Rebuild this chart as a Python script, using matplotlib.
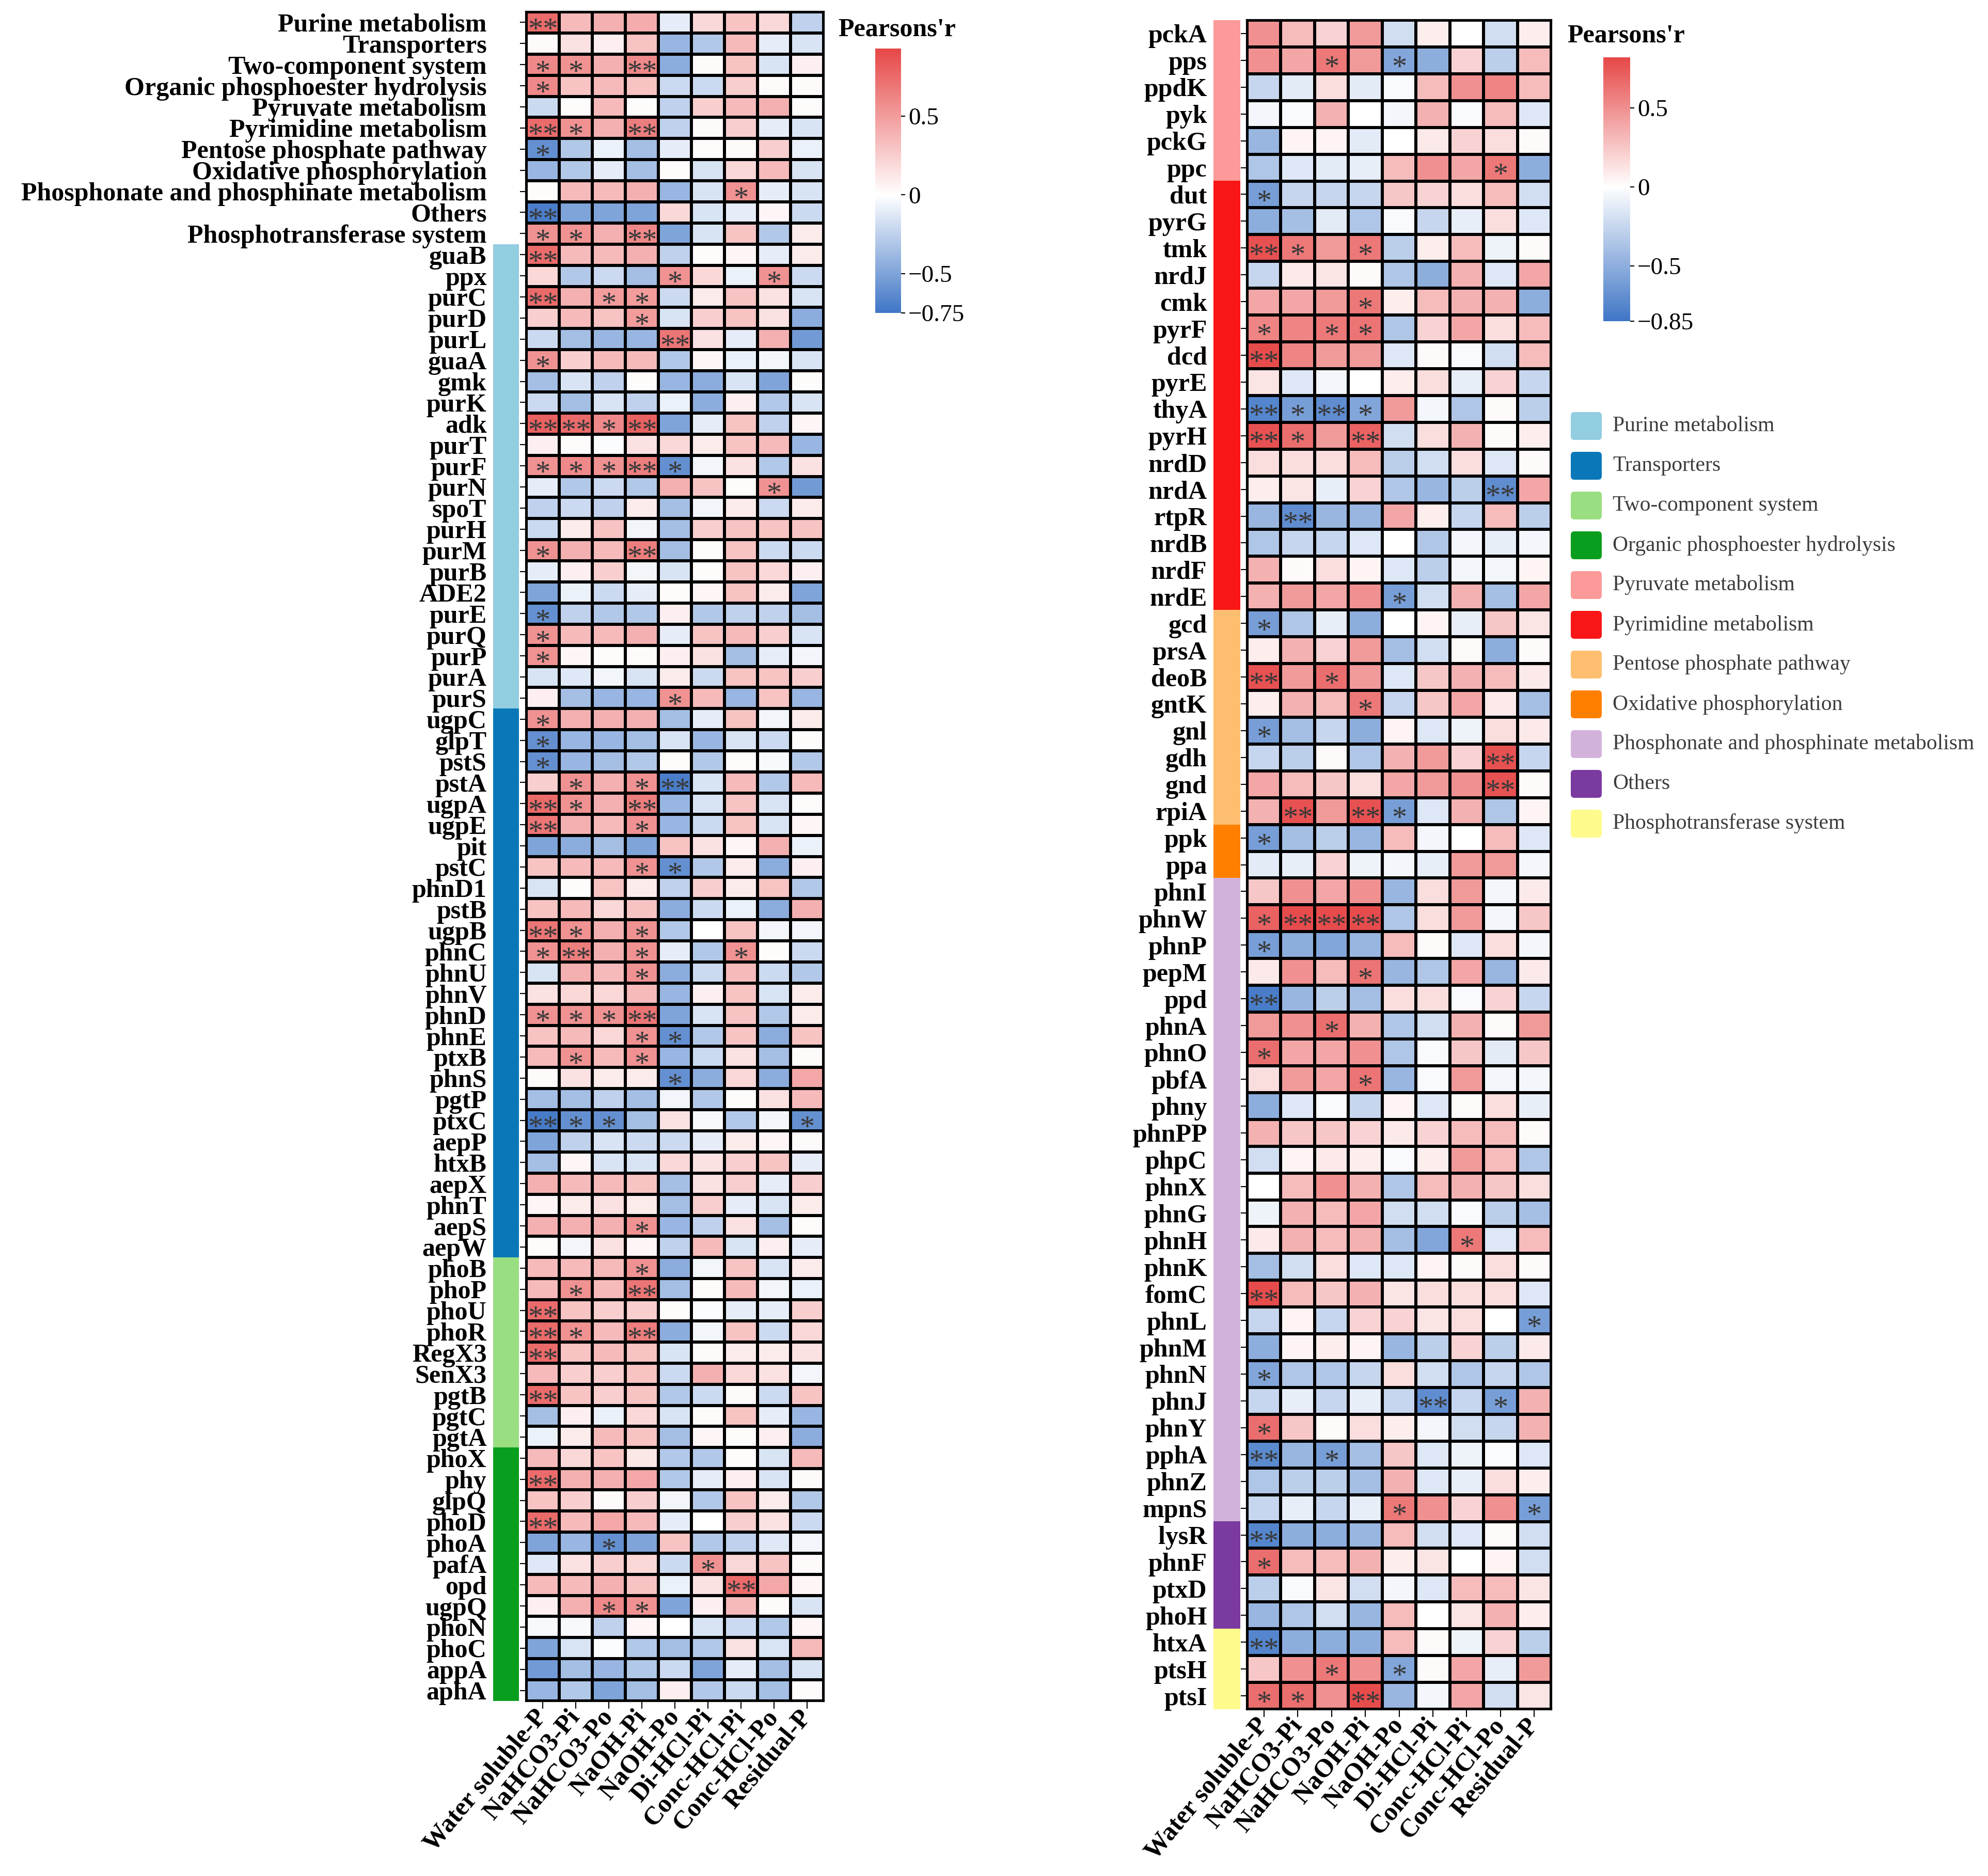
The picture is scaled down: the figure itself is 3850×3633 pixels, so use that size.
import numpy as np
import matplotlib.pyplot as plt
from matplotlib.colors import LinearSegmentedColormap, Normalize, to_rgb
from matplotlib.cm import ScalarMappable
from matplotlib.patches import FancyBboxPatch

plt.rcParams['font.family'] = ['Liberation Serif', 'DejaVu Serif']

W, H = 3850, 3633

# ---------------- data ----------------
fractions = ['Water soluble-P', 'NaHCO3-Pi', 'NaHCO3-Po', 'NaOH-Pi', 'NaOH-Po',
             'Di-HCl-Pi', 'Conc-HCl-Pi', 'Conc-HCl-Po', 'Residual-P']

categories = ['Purine metabolism', 'Transporters', 'Two-component system',
              'Organic phosphoester hydrolysis', 'Pyruvate metabolism',
              'Pyrimidine metabolism', 'Pentose phosphate pathway',
              'Oxidative phosphorylation', 'Phosphonate and phosphinate metabolism',
              'Others', 'Phosphotransferase system']
cat_colors = ['#92CDE0', '#0A78B8', '#9ADE82', '#0A9E1E', '#FB9A99', '#F91616',
              '#FDBF6F', '#FF8000', '#D2B2DA', '#7A3AA0', '#FFFA8C']

# left panel: row labels, group of each row block (None = no annotation)
left_labels = categories + [
    'guaB', 'ppx', 'purC', 'purD', 'purL', 'guaA', 'gmk', 'purK', 'adk', 'purT', 'purF',
    'purN', 'spoT', 'purH', 'purM', 'purB', 'ADE2', 'purE', 'purQ', 'purP', 'purA', 'purS',
    'ugpC', 'glpT', 'pstS', 'pstA', 'ugpA', 'ugpE', 'pit', 'pstC', 'phnD1', 'pstB', 'ugpB',
    'phnC', 'phnU', 'phnV', 'phnD', 'phnE', 'ptxB', 'phnS', 'pgtP', 'ptxC', 'aepP', 'htxB',
    'aepX', 'phnT', 'aepS', 'aepW',
    'phoB', 'phoP', 'phoU', 'phoR', 'RegX3', 'SenX3', 'pgtB', 'pgtC', 'pgtA',
    'phoX', 'phy', 'glpQ', 'phoD', 'phoA', 'pafA', 'opd', 'ugpQ', 'phoN', 'phoC', 'appA', 'aphA']
left_blocks = [(None, 11), ('Purine metabolism', 22), ('Transporters', 26),
               ('Two-component system', 9), ('Organic phosphoester hydrolysis', 12)]

left_r = [
    [0.75, 0.35, 0.40, 0.42, -0.10, 0.20, 0.30, 0.20, -0.25],
    [0.03, 0.15, 0.08, 0.30, -0.40, -0.30, 0.35, -0.10, -0.15],
    [0.60, 0.55, 0.40, 0.60, -0.45, 0.03, 0.30, -0.15, 0.08],
    [0.60, 0.30, 0.35, 0.30, -0.20, -0.20, 0.25, 0.03, 0.03],
    [-0.20, 0.02, 0.35, 0.02, -0.25, 0.25, 0.35, 0.40, 0.02],
    [0.75, 0.55, 0.40, 0.65, -0.25, 0.03, 0.25, -0.10, -0.15],
    [-0.60, -0.30, -0.08, -0.35, -0.10, 0.02, 0.03, 0.25, -0.08],
    [-0.40, -0.30, -0.10, -0.35, 0.02, -0.15, 0.20, 0.35, -0.15],
    [0.02, 0.35, 0.35, 0.40, -0.40, -0.15, 0.55, -0.10, -0.15],
    [-0.70, -0.50, -0.50, -0.50, 0.20, -0.15, -0.10, 0.05, -0.20],
    [0.55, 0.55, 0.40, 0.60, -0.50, -0.15, 0.30, -0.30, 0.10],
    [0.75, 0.35, 0.35, 0.40, -0.25, 0.02, 0.05, -0.10, 0.10],
    [0.20, -0.30, -0.20, -0.35, 0.55, 0.20, -0.08, 0.55, -0.20],
    [0.75, 0.40, 0.50, 0.50, -0.20, 0.10, 0.30, 0.15, -0.15],
    [0.25, 0.35, 0.30, 0.50, -0.15, 0.25, 0.30, 0.15, -0.45],
    [-0.20, -0.35, -0.40, -0.40, 0.70, 0.15, -0.10, 0.40, -0.55],
    [0.55, 0.25, 0.35, 0.35, -0.30, 0.05, -0.08, -0.05, -0.15],
    [-0.35, -0.15, -0.25, 0.02, -0.40, -0.45, -0.15, -0.50, 0.02],
    [-0.20, -0.35, -0.15, -0.25, -0.08, -0.45, 0.08, -0.30, -0.15],
    [0.80, 0.75, 0.60, 0.80, -0.50, -0.10, 0.30, -0.25, 0.05],
    [0.08, 0.02, -0.02, 0.15, 0.20, 0.10, 0.30, 0.35, -0.40],
    [0.55, 0.60, 0.55, 0.65, -0.60, -0.05, 0.15, -0.30, 0.15],
    [-0.10, -0.30, -0.20, -0.30, 0.40, 0.30, 0.02, 0.55, -0.55],
    [-0.25, -0.20, -0.25, 0.10, -0.35, -0.05, 0.10, -0.20, 0.10],
    [-0.20, 0.10, 0.30, -0.05, -0.35, 0.25, 0.30, 0.30, 0.30],
    [0.55, 0.40, 0.35, 0.65, -0.35, 0.02, 0.30, -0.20, -0.20],
    [-0.10, 0.08, 0.25, -0.05, -0.15, 0.02, 0.30, 0.20, 0.08],
    [-0.50, -0.08, -0.20, -0.10, 0.02, 0.05, 0.30, 0.10, -0.50],
    [-0.60, -0.25, -0.30, -0.30, 0.08, -0.30, -0.25, -0.25, -0.35],
    [0.55, 0.35, 0.35, 0.40, -0.10, 0.30, 0.35, 0.25, -0.15],
    [0.55, 0.05, 0.02, 0.03, 0.08, 0.15, -0.35, -0.10, -0.05],
    [-0.15, -0.12, -0.05, -0.15, 0.10, -0.20, 0.30, 0.30, 0.25],
    [0.08, -0.35, -0.40, -0.40, 0.55, 0.35, -0.40, 0.30, -0.40],
    [0.55, 0.40, 0.40, 0.40, -0.35, -0.10, 0.30, -0.05, 0.10],
    [-0.60, -0.40, -0.40, -0.35, -0.15, -0.40, -0.15, -0.20, 0.02],
    [-0.60, -0.40, -0.35, -0.30, 0.02, -0.30, 0.02, -0.03, -0.30],
    [0.25, 0.55, 0.40, 0.55, -0.70, -0.15, 0.35, -0.30, 0.35],
    [0.75, 0.55, 0.40, 0.65, -0.40, -0.15, 0.30, -0.15, 0.02],
    [0.70, 0.40, 0.35, 0.55, -0.40, -0.20, 0.30, -0.15, 0.05],
    [-0.50, -0.45, -0.35, -0.50, 0.30, 0.15, 0.05, 0.40, -0.08],
    [0.30, 0.35, 0.35, 0.55, -0.60, -0.30, 0.10, -0.45, 0.08],
    [-0.15, 0.02, 0.30, 0.10, -0.25, 0.25, 0.10, 0.30, -0.30],
    [0.30, 0.35, 0.20, 0.30, -0.45, -0.20, -0.08, -0.45, 0.40],
    [0.70, 0.55, 0.40, 0.55, -0.30, 0.00, 0.30, -0.05, -0.05],
    [0.55, 0.65, 0.40, 0.55, -0.10, -0.30, 0.55, 0.02, -0.20],
    [-0.15, 0.40, 0.35, 0.55, -0.45, -0.20, 0.35, -0.20, -0.30],
    [0.15, 0.20, 0.20, 0.35, -0.40, 0.08, 0.30, -0.15, 0.10],
    [0.55, 0.55, 0.55, 0.70, -0.50, -0.15, 0.30, -0.30, 0.10],
    [0.30, 0.35, 0.20, 0.55, -0.60, -0.30, 0.30, -0.45, 0.30],
    [0.35, 0.55, 0.35, 0.55, -0.40, -0.20, 0.15, -0.35, 0.03],
    [0.03, 0.15, 0.10, 0.10, -0.60, -0.45, 0.20, -0.45, 0.45],
    [-0.35, -0.35, -0.25, -0.35, -0.05, -0.30, 0.02, 0.15, 0.35],
    [-0.72, -0.60, -0.60, -0.35, 0.15, -0.03, -0.30, -0.05, -0.60],
    [-0.50, -0.25, -0.15, -0.20, -0.20, -0.10, 0.10, 0.05, 0.03],
    [-0.35, 0.05, -0.15, -0.15, 0.20, 0.15, 0.25, 0.30, -0.10],
    [0.40, 0.35, 0.35, 0.30, -0.35, 0.15, 0.25, -0.10, 0.25],
    [0.05, 0.10, 0.15, 0.10, -0.35, 0.25, -0.10, -0.15, 0.10],
    [0.40, 0.40, 0.40, 0.55, -0.40, -0.25, 0.15, -0.35, 0.02],
    [0.02, -0.05, 0.15, 0.05, -0.25, 0.35, -0.15, 0.08, -0.10],
    [0.35, 0.35, 0.35, 0.55, -0.45, -0.05, 0.30, -0.15, 0.10],
    [0.35, 0.55, 0.35, 0.70, -0.35, 0.02, 0.35, -0.05, -0.08],
    [0.75, 0.30, 0.25, 0.25, 0.02, -0.02, -0.10, -0.10, 0.25],
    [0.75, 0.55, 0.35, 0.65, -0.45, -0.05, 0.30, -0.20, 0.20],
    [0.75, 0.30, 0.35, 0.30, -0.15, 0.03, 0.10, 0.10, 0.15],
    [0.35, 0.25, 0.25, 0.30, -0.20, 0.40, 0.20, 0.15, -0.05],
    [0.75, 0.30, 0.25, 0.30, -0.30, -0.20, 0.03, -0.20, 0.30],
    [-0.35, 0.08, -0.08, 0.20, -0.15, 0.03, 0.30, -0.10, -0.40],
    [-0.08, 0.10, 0.35, 0.30, -0.35, 0.05, 0.02, 0.08, -0.45],
    [0.35, 0.20, 0.30, 0.12, -0.30, -0.30, 0.02, -0.15, 0.35],
    [0.75, 0.40, 0.40, 0.45, -0.30, -0.10, 0.08, -0.15, 0.03],
    [0.30, 0.25, 0.03, 0.25, -0.05, -0.30, 0.30, 0.10, -0.30],
    [0.75, 0.35, 0.45, 0.35, -0.10, 0.00, 0.25, 0.15, -0.20],
    [-0.50, -0.40, -0.60, -0.50, 0.30, -0.30, -0.25, -0.12, -0.05],
    [-0.12, 0.15, 0.25, 0.20, -0.20, 0.55, 0.20, 0.30, 0.03],
    [0.35, 0.35, 0.40, 0.30, -0.08, 0.15, 0.75, 0.45, 0.05],
    [0.08, 0.40, 0.60, 0.55, -0.50, 0.08, 0.35, 0.03, -0.15],
    [-0.03, -0.03, -0.25, 0.05, 0.00, -0.15, -0.20, -0.30, 0.05],
    [-0.50, -0.15, -0.02, -0.30, -0.35, -0.30, 0.15, -0.15, 0.35],
    [-0.55, -0.35, -0.40, -0.30, -0.20, -0.50, -0.10, -0.35, -0.15],
    [-0.40, -0.30, -0.50, -0.35, 0.08, -0.30, -0.20, -0.35, 0.02],
]

# number of asterisks per cell (1: p<0.05, 2: p<0.01)
left_sig = [
    [2, 0, 0, 0, 0, 0, 0, 0, 0],
    [0, 0, 0, 0, 0, 0, 0, 0, 0],
    [1, 1, 0, 2, 0, 0, 0, 0, 0],
    [1, 0, 0, 0, 0, 0, 0, 0, 0],
    [0, 0, 0, 0, 0, 0, 0, 0, 0],
    [2, 1, 0, 2, 0, 0, 0, 0, 0],
    [1, 0, 0, 0, 0, 0, 0, 0, 0],
    [0, 0, 0, 0, 0, 0, 0, 0, 0],
    [0, 0, 0, 0, 0, 0, 1, 0, 0],
    [2, 0, 0, 0, 0, 0, 0, 0, 0],
    [1, 1, 0, 2, 0, 0, 0, 0, 0],
    [2, 0, 0, 0, 0, 0, 0, 0, 0],
    [0, 0, 0, 0, 1, 0, 0, 1, 0],
    [2, 0, 1, 1, 0, 0, 0, 0, 0],
    [0, 0, 0, 1, 0, 0, 0, 0, 0],
    [0, 0, 0, 0, 2, 0, 0, 0, 0],
    [1, 0, 0, 0, 0, 0, 0, 0, 0],
    [0, 0, 0, 0, 0, 0, 0, 0, 0],
    [0, 0, 0, 0, 0, 0, 0, 0, 0],
    [2, 2, 1, 2, 0, 0, 0, 0, 0],
    [0, 0, 0, 0, 0, 0, 0, 0, 0],
    [1, 1, 1, 2, 1, 0, 0, 0, 0],
    [0, 0, 0, 0, 0, 0, 0, 1, 0],
    [0, 0, 0, 0, 0, 0, 0, 0, 0],
    [0, 0, 0, 0, 0, 0, 0, 0, 0],
    [1, 0, 0, 2, 0, 0, 0, 0, 0],
    [0, 0, 0, 0, 0, 0, 0, 0, 0],
    [0, 0, 0, 0, 0, 0, 0, 0, 0],
    [1, 0, 0, 0, 0, 0, 0, 0, 0],
    [1, 0, 0, 0, 0, 0, 0, 0, 0],
    [1, 0, 0, 0, 0, 0, 0, 0, 0],
    [0, 0, 0, 0, 0, 0, 0, 0, 0],
    [0, 0, 0, 0, 1, 0, 0, 0, 0],
    [1, 0, 0, 0, 0, 0, 0, 0, 0],
    [1, 0, 0, 0, 0, 0, 0, 0, 0],
    [1, 0, 0, 0, 0, 0, 0, 0, 0],
    [0, 1, 0, 1, 2, 0, 0, 0, 0],
    [2, 1, 0, 2, 0, 0, 0, 0, 0],
    [2, 0, 0, 1, 0, 0, 0, 0, 0],
    [0, 0, 0, 0, 0, 0, 0, 0, 0],
    [0, 0, 0, 1, 1, 0, 0, 0, 0],
    [0, 0, 0, 0, 0, 0, 0, 0, 0],
    [0, 0, 0, 0, 0, 0, 0, 0, 0],
    [2, 1, 0, 1, 0, 0, 0, 0, 0],
    [1, 2, 0, 1, 0, 0, 1, 0, 0],
    [0, 0, 0, 1, 0, 0, 0, 0, 0],
    [0, 0, 0, 0, 0, 0, 0, 0, 0],
    [1, 1, 1, 2, 0, 0, 0, 0, 0],
    [0, 0, 0, 1, 1, 0, 0, 0, 0],
    [0, 1, 0, 1, 0, 0, 0, 0, 0],
    [0, 0, 0, 0, 1, 0, 0, 0, 0],
    [0, 0, 0, 0, 0, 0, 0, 0, 0],
    [2, 1, 1, 0, 0, 0, 0, 0, 1],
    [0, 0, 0, 0, 0, 0, 0, 0, 0],
    [0, 0, 0, 0, 0, 0, 0, 0, 0],
    [0, 0, 0, 0, 0, 0, 0, 0, 0],
    [0, 0, 0, 0, 0, 0, 0, 0, 0],
    [0, 0, 0, 1, 0, 0, 0, 0, 0],
    [0, 0, 0, 0, 0, 0, 0, 0, 0],
    [0, 0, 0, 1, 0, 0, 0, 0, 0],
    [0, 1, 0, 2, 0, 0, 0, 0, 0],
    [2, 0, 0, 0, 0, 0, 0, 0, 0],
    [2, 1, 0, 2, 0, 0, 0, 0, 0],
    [2, 0, 0, 0, 0, 0, 0, 0, 0],
    [0, 0, 0, 0, 0, 0, 0, 0, 0],
    [2, 0, 0, 0, 0, 0, 0, 0, 0],
    [0, 0, 0, 0, 0, 0, 0, 0, 0],
    [0, 0, 0, 0, 0, 0, 0, 0, 0],
    [0, 0, 0, 0, 0, 0, 0, 0, 0],
    [2, 0, 0, 0, 0, 0, 0, 0, 0],
    [0, 0, 0, 0, 0, 0, 0, 0, 0],
    [2, 0, 0, 0, 0, 0, 0, 0, 0],
    [0, 0, 1, 0, 0, 0, 0, 0, 0],
    [0, 0, 0, 0, 0, 1, 0, 0, 0],
    [0, 0, 0, 0, 0, 0, 2, 0, 0],
    [0, 0, 1, 1, 0, 0, 0, 0, 0],
    [0, 0, 0, 0, 0, 0, 0, 0, 0],
    [0, 0, 0, 0, 0, 0, 0, 0, 0],
    [0, 0, 0, 0, 0, 0, 0, 0, 0],
    [0, 0, 0, 0, 0, 0, 0, 0, 0],
]

# right panel
right_labels = [
    'pckA', 'pps', 'ppdK', 'pyk', 'pckG', 'ppc',
    'dut', 'pyrG', 'tmk', 'nrdJ', 'cmk', 'pyrF', 'dcd', 'pyrE', 'thyA', 'pyrH', 'nrdD',
    'nrdA', 'rtpR', 'nrdB', 'nrdF', 'nrdE',
    'gcd', 'prsA', 'deoB', 'gntK', 'gnl', 'gdh', 'gnd', 'rpiA',
    'ppk', 'ppa',
    'phnI', 'phnW', 'phnP', 'pepM', 'ppd', 'phnA', 'phnO', 'pbfA', 'phny', 'phnPP', 'phpC',
    'phnX', 'phnG', 'phnH', 'phnK', 'fomC', 'phnL', 'phnM', 'phnN', 'phnJ', 'phnY', 'pphA',
    'phnZ', 'mpnS',
    'lysR', 'phnF', 'ptxD', 'phoH',
    'htxA', 'ptsH', 'ptsI']
right_blocks = [('Pyruvate metabolism', 6), ('Pyrimidine metabolism', 16),
                ('Pentose phosphate pathway', 8), ('Oxidative phosphorylation', 2),
                ('Phosphonate and phosphinate metabolism', 24), ('Others', 4),
                ('Phosphotransferase system', 3)]

right_r = [
    [0.50, 0.30, 0.20, 0.45, -0.20, 0.08, 0.00, -0.20, 0.08],
    [0.50, 0.40, 0.60, 0.45, -0.55, -0.50, 0.20, -0.30, 0.30],
    [-0.25, -0.12, 0.15, -0.12, -0.03, 0.30, 0.50, 0.55, 0.30],
    [-0.05, -0.03, 0.35, 0.00, -0.05, 0.35, -0.03, 0.30, -0.15],
    [-0.45, 0.05, 0.05, -0.12, 0.00, 0.10, 0.20, 0.15, 0.02],
    [-0.35, -0.15, -0.12, -0.10, 0.30, 0.50, 0.40, 0.60, -0.50],
    [-0.60, -0.25, -0.25, -0.25, 0.25, 0.20, 0.15, 0.30, -0.20],
    [-0.50, -0.40, -0.12, -0.35, -0.03, -0.25, -0.10, 0.15, -0.15],
    [0.78, 0.60, 0.45, 0.60, -0.30, 0.08, 0.30, -0.08, 0.02],
    [-0.25, 0.10, 0.12, 0.02, -0.35, -0.50, 0.35, -0.15, 0.40],
    [0.40, 0.40, 0.45, 0.60, 0.08, 0.30, 0.35, 0.35, -0.50],
    [0.55, 0.55, 0.60, 0.62, -0.35, 0.20, 0.40, 0.15, 0.30],
    [0.80, 0.55, 0.45, 0.45, -0.15, 0.02, -0.03, -0.20, 0.30],
    [0.12, -0.15, -0.05, 0.00, 0.08, 0.15, -0.10, 0.20, -0.25],
    [-0.75, -0.60, -0.70, -0.55, 0.45, -0.05, -0.35, 0.02, -0.30],
    [0.78, 0.65, 0.45, 0.70, -0.20, 0.15, 0.35, 0.02, 0.08],
    [0.15, 0.15, 0.15, 0.30, -0.30, -0.20, 0.15, -0.15, 0.02],
    [0.08, 0.12, -0.10, 0.20, -0.35, -0.45, -0.30, -0.70, 0.40],
    [-0.45, -0.70, -0.45, -0.45, 0.40, 0.08, -0.25, 0.30, -0.30],
    [-0.35, -0.25, -0.25, -0.15, 0.00, -0.35, -0.05, -0.10, -0.05],
    [0.35, 0.02, 0.15, 0.05, -0.15, -0.30, -0.05, -0.05, 0.05],
    [0.35, 0.45, 0.40, 0.50, -0.60, -0.20, 0.35, -0.40, 0.40],
    [-0.60, -0.35, -0.10, -0.50, 0.00, 0.05, -0.10, 0.25, 0.12],
    [0.08, 0.35, 0.20, 0.45, -0.40, -0.20, 0.03, -0.50, 0.02],
    [0.78, 0.45, 0.65, 0.45, -0.15, 0.25, 0.35, 0.30, 0.10],
    [0.08, 0.35, 0.30, 0.60, -0.25, 0.25, 0.40, 0.10, -0.40],
    [-0.60, -0.40, -0.25, -0.50, 0.05, -0.15, -0.08, 0.15, 0.10],
    [-0.25, -0.30, 0.03, -0.35, 0.35, 0.45, 0.20, 0.78, -0.25],
    [0.40, 0.30, 0.25, 0.15, 0.40, 0.45, 0.50, 0.78, 0.02],
    [0.35, 0.78, 0.45, 0.78, -0.60, -0.15, 0.35, -0.35, 0.05],
    [-0.60, -0.40, -0.30, -0.45, 0.30, -0.05, 0.00, 0.30, -0.15],
    [-0.12, -0.10, 0.20, -0.08, -0.05, -0.10, 0.45, 0.45, -0.05],
    [0.25, 0.50, 0.40, 0.50, -0.45, 0.15, 0.45, -0.05, 0.10],
    [0.70, 0.80, 0.80, 0.80, -0.35, 0.15, 0.45, -0.05, 0.25],
    [-0.60, -0.50, -0.55, -0.45, 0.30, 0.02, -0.15, 0.15, -0.05],
    [0.10, 0.50, 0.30, 0.62, -0.45, -0.35, 0.40, -0.45, 0.10],
    [-0.80, -0.45, -0.30, -0.40, 0.15, 0.15, -0.03, 0.20, -0.25],
    [0.45, 0.50, 0.65, 0.35, -0.35, -0.20, 0.35, 0.03, 0.45],
    [0.65, 0.40, 0.40, 0.50, -0.35, -0.03, 0.25, -0.12, 0.25],
    [0.15, 0.45, 0.40, 0.62, -0.45, -0.03, 0.45, -0.05, -0.05],
    [-0.50, -0.15, -0.03, -0.25, 0.05, -0.15, 0.02, 0.15, -0.10],
    [0.35, 0.25, 0.25, 0.20, 0.10, 0.20, 0.30, 0.30, 0.02],
    [-0.20, 0.05, 0.10, 0.08, -0.03, 0.08, 0.45, 0.30, -0.35],
    [0.00, 0.30, 0.50, 0.35, -0.35, 0.30, 0.35, 0.25, 0.15],
    [-0.08, 0.35, 0.30, 0.40, -0.20, -0.20, -0.03, -0.30, -0.40],
    [0.10, 0.35, 0.30, 0.35, -0.40, -0.55, 0.60, -0.15, 0.30],
    [-0.40, -0.20, 0.15, -0.15, -0.15, 0.05, 0.02, 0.15, 0.02],
    [0.80, 0.30, 0.25, 0.35, 0.12, 0.15, 0.15, 0.15, -0.15],
    [-0.25, 0.05, -0.25, 0.20, 0.20, 0.12, 0.15, 0.00, -0.60],
    [-0.50, 0.05, 0.08, 0.05, -0.45, -0.30, 0.20, -0.30, 0.10],
    [-0.55, -0.35, -0.35, -0.25, 0.15, -0.20, -0.35, -0.25, -0.35],
    [-0.25, -0.10, -0.25, -0.10, -0.25, -0.70, -0.25, -0.60, 0.35],
    [0.65, 0.25, 0.02, 0.15, 0.08, -0.05, -0.20, -0.25, 0.35],
    [-0.72, -0.45, -0.60, -0.40, 0.25, -0.15, -0.08, -0.02, -0.15],
    [-0.35, -0.30, -0.30, -0.40, 0.35, -0.15, -0.10, 0.15, 0.08],
    [-0.25, -0.10, -0.25, -0.10, 0.60, 0.50, 0.20, 0.50, -0.60],
    [-0.75, -0.50, -0.50, -0.45, 0.30, -0.20, -0.15, 0.02, -0.20],
    [0.65, 0.30, 0.30, 0.35, 0.08, 0.12, 0.00, 0.05, -0.20],
    [-0.30, -0.03, 0.12, -0.20, -0.05, -0.15, 0.30, 0.30, 0.12],
    [-0.45, -0.35, -0.20, -0.45, 0.30, 0.00, 0.12, 0.35, 0.08],
    [-0.75, -0.50, -0.50, -0.50, 0.30, 0.02, -0.08, 0.20, -0.30],
    [0.25, 0.50, 0.60, 0.50, -0.55, 0.02, 0.40, -0.10, 0.45],
    [0.65, 0.65, 0.50, 0.80, -0.45, -0.05, 0.40, -0.20, 0.12],
]

right_sig = [
    [0, 0, 0, 0, 0, 0, 0, 0, 0],
    [0, 0, 1, 0, 1, 0, 0, 0, 0],
    [0, 0, 0, 0, 0, 0, 0, 0, 0],
    [0, 0, 0, 0, 0, 0, 0, 0, 0],
    [0, 0, 0, 0, 0, 0, 0, 0, 0],
    [0, 0, 0, 0, 0, 0, 0, 1, 0],
    [1, 0, 0, 0, 0, 0, 0, 0, 0],
    [0, 0, 0, 0, 0, 0, 0, 0, 0],
    [2, 1, 0, 1, 0, 0, 0, 0, 0],
    [0, 0, 0, 0, 0, 0, 0, 0, 0],
    [0, 0, 0, 1, 0, 0, 0, 0, 0],
    [1, 0, 1, 1, 0, 0, 0, 0, 0],
    [2, 0, 0, 0, 0, 0, 0, 0, 0],
    [0, 0, 0, 0, 0, 0, 0, 0, 0],
    [2, 1, 2, 1, 0, 0, 0, 0, 0],
    [2, 1, 0, 2, 0, 0, 0, 0, 0],
    [0, 0, 0, 0, 0, 0, 0, 0, 0],
    [0, 0, 0, 0, 0, 0, 0, 2, 0],
    [0, 2, 0, 0, 0, 0, 0, 0, 0],
    [0, 0, 0, 0, 0, 0, 0, 0, 0],
    [0, 0, 0, 0, 0, 0, 0, 0, 0],
    [0, 0, 0, 0, 1, 0, 0, 0, 0],
    [1, 0, 0, 0, 0, 0, 0, 0, 0],
    [0, 0, 0, 0, 0, 0, 0, 0, 0],
    [2, 0, 1, 0, 0, 0, 0, 0, 0],
    [0, 0, 0, 1, 0, 0, 0, 0, 0],
    [1, 0, 0, 0, 0, 0, 0, 0, 0],
    [0, 0, 0, 0, 0, 0, 0, 2, 0],
    [0, 0, 0, 0, 0, 0, 0, 2, 0],
    [0, 2, 0, 2, 1, 0, 0, 0, 0],
    [1, 0, 0, 0, 0, 0, 0, 0, 0],
    [0, 0, 0, 0, 0, 0, 0, 0, 0],
    [0, 0, 0, 0, 0, 0, 0, 0, 0],
    [1, 2, 2, 2, 0, 0, 0, 0, 0],
    [1, 0, 0, 0, 0, 0, 0, 0, 0],
    [0, 0, 0, 1, 0, 0, 0, 0, 0],
    [2, 0, 0, 0, 0, 0, 0, 0, 0],
    [0, 0, 1, 0, 0, 0, 0, 0, 0],
    [1, 0, 0, 0, 0, 0, 0, 0, 0],
    [0, 0, 0, 1, 0, 0, 0, 0, 0],
    [0, 0, 0, 0, 0, 0, 0, 0, 0],
    [0, 0, 0, 0, 0, 0, 0, 0, 0],
    [0, 0, 0, 0, 0, 0, 0, 0, 0],
    [0, 0, 0, 0, 0, 0, 0, 0, 0],
    [0, 0, 0, 0, 0, 0, 0, 0, 0],
    [0, 0, 0, 0, 0, 0, 1, 0, 0],
    [0, 0, 0, 0, 0, 0, 0, 0, 0],
    [2, 0, 0, 0, 0, 0, 0, 0, 0],
    [0, 0, 0, 0, 0, 0, 0, 0, 1],
    [0, 0, 0, 0, 0, 0, 0, 0, 0],
    [1, 0, 0, 0, 0, 0, 0, 0, 0],
    [0, 0, 0, 0, 0, 2, 0, 1, 0],
    [1, 0, 0, 0, 0, 0, 0, 0, 0],
    [2, 0, 1, 0, 0, 0, 0, 0, 0],
    [0, 0, 0, 0, 0, 0, 0, 0, 0],
    [0, 0, 0, 0, 1, 0, 0, 0, 1],
    [2, 0, 0, 0, 0, 0, 0, 0, 0],
    [1, 0, 0, 0, 0, 0, 0, 0, 0],
    [0, 0, 0, 0, 0, 0, 0, 0, 0],
    [0, 0, 0, 0, 0, 0, 0, 0, 0],
    [2, 0, 0, 0, 0, 0, 0, 0, 0],
    [0, 0, 1, 0, 1, 0, 0, 0, 0],
    [1, 1, 0, 2, 0, 0, 0, 0, 0],
]

left_range = (-0.75, 0.93)
right_range = (-0.85, 0.82)

# ---------------- drawing ----------------
BLUE, RED = '#3F76C6', '#E64848'
LABEL_FS = 36
STAR_FS = 42


def frac(x0, y0, x1, y1):
    return [x0 / W, 1 - y1 / H, (x1 - x0) / W, (y1 - y0) / H]


def make_cmap(vmin, vmax):
    z = -vmin / (vmax - vmin)
    return LinearSegmentedColormap.from_list('pr', [(0, BLUE), (z, 'white'), (1, RED)])


def draw_panel(fig, box_hm, box_bar, labels, blocks, vals, sig, vrange):
    n = len(labels)
    cmap = make_cmap(*vrange)
    norm = Normalize(*vrange)

    ax = fig.add_axes(frac(*box_hm))
    ax.pcolormesh(np.array(vals), cmap=cmap, norm=norm, edgecolors='black', linewidth=3)
    ax.set_xlim(0, len(fractions))
    ax.set_ylim(n, 0)
    for s in ax.spines.values():
        s.set_linewidth(3)
    ax.set_yticks(np.arange(n) + 0.5)
    ax.set_yticklabels([])
    ax.tick_params(axis='y', length=9, width=1.5)
    ax.set_xticks(np.arange(len(fractions)) + 0.5)
    ax.set_xticklabels(fractions, rotation=50, ha='right', va='center',
                       rotation_mode='anchor', fontsize=LABEL_FS, fontweight='bold')
    ax.tick_params(axis='x', length=11, width=1.5, pad=6)

    for i, row in enumerate(sig):
        for j, k in enumerate(row):
            if k:
                ax.annotate('*' * k, (j + 0.5, i + 0.5), xytext=(0, -0.52 * STAR_FS),
                            textcoords='offset points', ha='center', va='baseline',
                            fontsize=STAR_FS, color='#383838')

    # group annotation bar + row labels
    rgba = np.ones((n, 1, 4))
    r0 = 0
    for name, cnt in blocks:
        if name is not None:
            rgba[r0:r0 + cnt, 0, :3] = to_rgb(cat_colors[categories.index(name)])
        r0 += cnt
    axb = fig.add_axes(frac(*box_bar))
    axb.imshow(rgba, aspect='auto', extent=(0, 1, n, 0), interpolation='nearest')
    axb.set_xticks([])
    axb.set_yticks(np.arange(n) + 0.5)
    axb.set_yticklabels(labels, fontsize=LABEL_FS, fontweight='bold')
    axb.tick_params(axis='y', length=0, pad=9)
    for s in axb.spines.values():
        s.set_visible(False)
    return cmap, norm


def draw_colorbar(fig, box, cmap, norm, ticks, ticklabels, title_xy):
    cax = fig.add_axes(frac(*box))
    cb = fig.colorbar(ScalarMappable(norm=norm, cmap=cmap), cax=cax, ticks=ticks)
    cb.outline.set_visible(False)
    cb.ax.set_yticklabels(ticklabels, fontsize=34)
    cb.ax.tick_params(length=6, width=1.5, pad=4)
    fig.text(title_xy[0] / W, 1 - title_xy[1] / H, "Pearsons'r", fontsize=LABEL_FS,
             fontweight='bold', ha='left', va='center')


fig = plt.figure(figsize=(W / 100, H / 100), dpi=100)

cm_l, nm_l = draw_panel(fig, (1019, 23, 1595, 3294), (955, 23, 1005, 3294),
                        left_labels, left_blocks, left_r, left_sig, left_range)
cm_r, nm_r = draw_panel(fig, (2415, 39, 3004, 3310), (2350, 39, 2402, 3310),
                        right_labels, right_blocks, right_r, right_sig, right_range)

draw_colorbar(fig, (1695, 94, 1745, 606), cm_l, nm_l, [-0.75, -0.5, 0, 0.5],
              ['\u22120.75', '\u22120.5', '0', '0.5'], (1623, 57))
draw_colorbar(fig, (3105, 111, 3157, 622), cm_r, nm_r, [-0.85, -0.5, 0, 0.5],
              ['\u22120.85', '\u22120.5', '0', '0.5'], (3035, 69))

# category legend
axl = fig.add_axes([0, 0, 1, 1], facecolor='none')
axl.set_xlim(0, W)
axl.set_ylim(H, 0)
axl.axis('off')
for k, (name, col) in enumerate(zip(categories, cat_colors)):
    yc = 825 + 77 * k
    axl.add_patch(FancyBboxPatch((3042, yc - 27), 60, 54,
                                 boxstyle='round,pad=0,rounding_size=7',
                                 facecolor=col, edgecolor='none'))
    axl.text(3123, yc, name, fontsize=30, color='#3C3C3C', ha='left', va='center')

fig.savefig('out.png', dpi=100, facecolor='white')
